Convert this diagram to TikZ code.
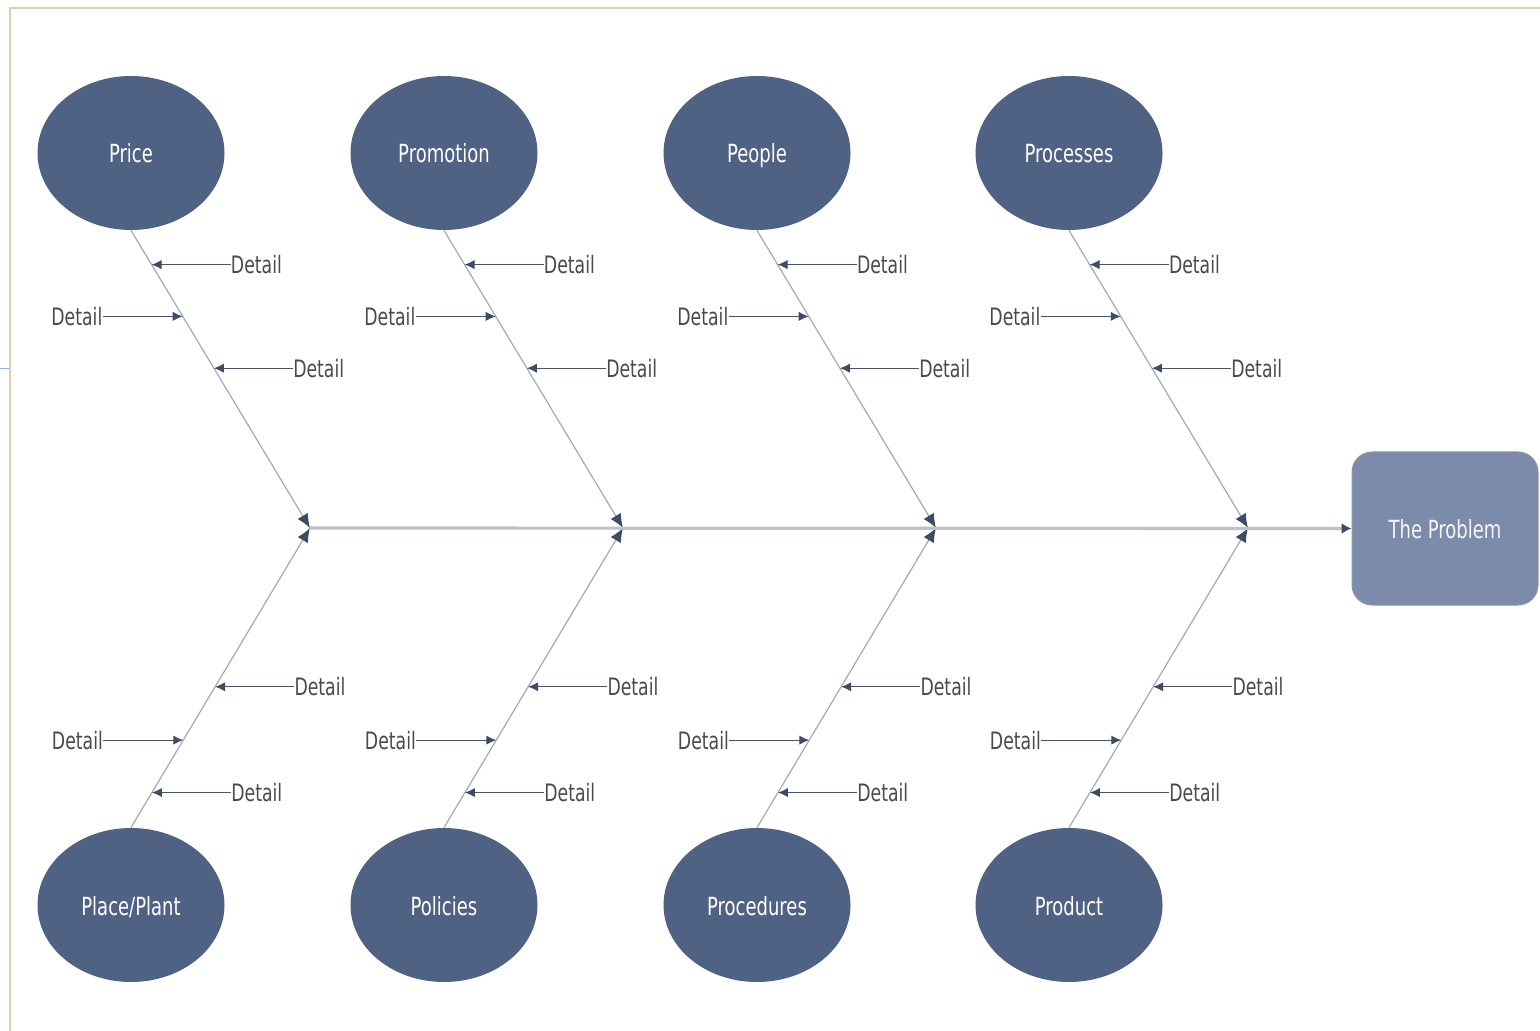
\documentclass[tikz,border=0pt]{standalone}
\usepackage{fontspec}
\setmainfont{DejaVu Sans}[FakeStretch=0.72]
\usetikzlibrary{shapes.geometric,arrows.meta,calc}
\definecolor{causefill}{HTML}{4F6283}
\definecolor{problemfill}{HTML}{7B8BA9}
\definecolor{problemedge}{HTML}{8C97AC}
\definecolor{bonegray}{HTML}{A3A8B1}
\definecolor{spinegray}{HTML}{BCC2CA}
\definecolor{tipnavy}{HTML}{3D4C66}
\definecolor{detailtext}{HTML}{4A4A4A}
\definecolor{frametan}{HTML}{DDD0B0}
\definecolor{marklblue}{HTML}{86B4E2}
\tikzset{
  cause/.style={ellipse, fill=causefill, minimum width=93.5pt, minimum height=77pt,
    inner sep=0pt, text=white, text height=1em, text depth=0pt,
    font=\fontsize{12.5}{14}\selectfont},
  problem/.style={rectangle, rounded corners=10pt, fill=problemfill, draw=problemedge,
    line width=0.5pt, minimum width=93pt, minimum height=76.5pt,
    text height=1em, text depth=0pt,
    text=white!92!problemfill, font=\fontsize{12.5}{14}\selectfont},
  detail/.style={inner sep=0pt, text=detailtext, font=\fontsize{12}{14}\selectfont},
  bone/.style={draw=bonegray, line width=0.6pt,
    -{Latex[length=7pt,width=6pt,color=tipnavy]}},
  spine/.style={draw=spinegray, line width=1.6pt,
    -{Latex[length=5pt,width=5.5pt,color=tipnavy]}},
  detailarrow/.style={draw=tipnavy!85!gray, line width=0.5pt,
    -{Latex[length=5pt,width=4.6pt,color=tipnavy]}},
}
\begin{document}
\begin{tikzpicture}[x=0.5pt,y=-0.5pt]
  \useasboundingbox (0,0) rectangle (1540,1031);
  % page frame
  \draw[frametan, line width=1pt] (10,1031) -- (10,8) -- (1540,8);
  \draw[marklblue, line width=0.5pt] (0,369) -- (9,369);

  % effect box
  \node[problem] (problem) at (1445,528.5) {The Problem};

  % causes, bones and details, one column per pair of causes
  \foreach \i/\x/\tp/\bt in {1/131/Price/{Place/Plant},
                             2/444/Promotion/Policies,
                             3/757/People/Procedures,
                             4/1069/Processes/Product}{
    \node[cause] (t\i) at (\x,153) {\tp};
    \node[cause] (b\i) at (\x,905) {\bt};
    \coordinate (j\i) at ($(\x,528)+(179,0)$);
    \draw[bone] (t\i.south) -- (j\i);
    \draw[bone] (b\i.north) -- (j\i);
    % details on the upper bone
    \coordinate (tu\i) at ($(t\i.south)!0.115!(j\i)$);
    \coordinate (tm\i) at ($(t\i.south)!0.289!(j\i)$);
    \coordinate (tl\i) at ($(t\i.south)!0.463!(j\i)$);
    \node[detail, anchor=west] (dtu\i) at ([xshift=39.5pt]tu\i) {Detail};
    \node[detail, anchor=east] (dtm\i) at ([xshift=-40pt]tm\i) {Detail};
    \node[detail, anchor=west] (dtl\i) at ([xshift=39.5pt]tl\i) {Detail};
    \draw[detailarrow] (dtu\i.west) -- (tu\i);
    \draw[detailarrow] (dtm\i.east) -- (tm\i);
    \draw[detailarrow] (dtl\i.west) -- (tl\i);
    % details on the lower bone
    \coordinate (bu\i) at ($(b\i.north)!0.117!(j\i)$);
    \coordinate (bm\i) at ($(b\i.north)!0.292!(j\i)$);
    \coordinate (bl\i) at ($(b\i.north)!0.470!(j\i)$);
    \node[detail, anchor=west] (dbu\i) at ([xshift=39.5pt]bu\i) {Detail};
    \node[detail, anchor=east] (dbm\i) at ([xshift=-40pt]bm\i) {Detail};
    \node[detail, anchor=west] (dbl\i) at ([xshift=39.5pt]bl\i) {Detail};
    \draw[detailarrow] (dbu\i.west) -- (bu\i);
    \draw[detailarrow] (dbm\i.east) -- (bm\i);
    \draw[detailarrow] (dbl\i.west) -- (bl\i);
  }

  % spine
  \draw[spine] (j1) -- (problem.west);
\end{tikzpicture}
\end{document}
